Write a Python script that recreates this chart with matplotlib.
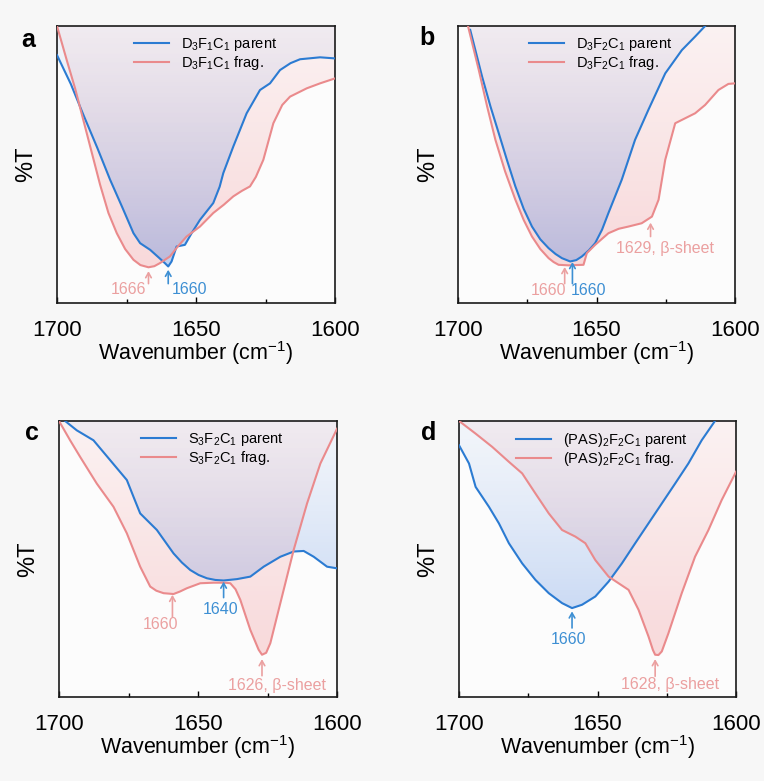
import numpy as np
import matplotlib
matplotlib.use("Agg")
import matplotlib.pyplot as plt
from matplotlib.patches import Polygon
from matplotlib.ticker import FixedLocator

plt.rcParams['font.family'] = ['Liberation Sans', 'DejaVu Sans']
plt.rcParams['mathtext.fontset'] = 'custom'
plt.rcParams['mathtext.rm'] = 'Liberation Sans'
plt.rcParams['mathtext.it'] = 'Liberation Sans:italic'
plt.rcParams['mathtext.bf'] = 'Liberation Sans:bold'
plt.rcParams['mathtext.default'] = 'regular'

BLUE = '#2b7bd2'
RED = '#ea8a8c'
BLUE_TXT = '#3d8fd3'
RED_TXT = '#eba0a0'

# --- spectra (wavenumber, normalised %T) ---
a_par_wn = [1700, 1695, 1690.5, 1685.5, 1680.9, 1676.5, 1672.5, 1670.1, 1666.5, 1663.5, 1661.2, 1660,
            1658.8, 1657, 1654, 1651.6, 1648.6, 1643.8, 1641.5, 1640.2, 1636.6, 1631.8, 1627,
            1623.4, 1619.8, 1616, 1612.6, 1605.4, 1600]
a_par_t = [0.895, 0.790, 0.679, 0.560, 0.445, 0.345, 0.252, 0.216, 0.192, 0.165, 0.144, 0.132,
           0.150, 0.204, 0.210, 0.252, 0.300, 0.361, 0.420, 0.469, 0.565, 0.685, 0.769,
           0.793, 0.841, 0.866, 0.880, 0.887, 0.883]
a_frag_wn = [1700, 1696.5, 1693.5, 1689.3, 1684.5, 1681.5, 1678.5, 1675.5, 1672.5, 1670, 1667.1,
             1665, 1663.0, 1659.4, 1656.5, 1653.4, 1648.6, 1643.8, 1640, 1636.6, 1633.5, 1630.6,
             1628.5, 1625.8, 1622.2, 1619, 1616.2, 1610.2, 1605.4, 1600]
a_frag_t = [1.0, 0.877, 0.775, 0.613, 0.427, 0.325, 0.252, 0.195, 0.156, 0.137, 0.129,
            0.133, 0.144, 0.168, 0.205, 0.240, 0.276, 0.325, 0.355, 0.385, 0.405, 0.421,
            0.455, 0.517, 0.649, 0.715, 0.745, 0.775, 0.793, 0.811]

b_par_wn = [1695.6, 1691.3, 1688.3, 1685.3, 1682.3, 1679.3, 1676.3, 1673.3, 1670.3, 1667.3, 1664.8,
            1662.5, 1659.5, 1657.3, 1655.3, 1652.8, 1650.5, 1648, 1645.7, 1640.9, 1636.1, 1631.3,
            1625.2, 1619.2, 1614.4, 1610.8]
b_par_t = [0.986, 0.817, 0.710, 0.613, 0.515, 0.421, 0.340, 0.276, 0.230, 0.198, 0.177,
           0.162, 0.150, 0.155, 0.168, 0.190, 0.216, 0.265, 0.325, 0.445, 0.589, 0.697,
           0.829, 0.913, 0.962, 1.0]
b_frag_wn = [1696.4, 1692.5, 1689.5, 1686.5, 1683, 1679.3, 1676.3, 1673.3, 1670.3, 1667.3, 1665.5,
             1663.7, 1660.1, 1654.7, 1653.5, 1650.5, 1648, 1645.7, 1642, 1638.5, 1633.7, 1630.0,
             1627.6, 1625.2, 1621.6, 1618.0, 1614.4, 1610.8, 1606.0, 1602.4, 1600]
b_frag_t = [1.0, 0.841, 0.710, 0.589, 0.475, 0.373, 0.300, 0.240, 0.195, 0.162, 0.148,
            0.138, 0.136, 0.138, 0.180, 0.210, 0.232, 0.252, 0.268, 0.276, 0.288, 0.312,
            0.373, 0.517, 0.649, 0.667, 0.685, 0.715, 0.769, 0.791, 0.793]

c_par_wn = [1697.8, 1693.6, 1687.6, 1681.6, 1675.6, 1673, 1670.8, 1664.8, 1658.8, 1655.8, 1652.8,
            1649.8, 1646.8, 1643.8, 1640.8, 1636.0, 1631.2, 1626.4, 1620.4, 1615.6, 1612.0, 1608.4,
            1603.6, 1600]
c_par_t = [1.0, 0.966, 0.930, 0.858, 0.786, 0.720, 0.665, 0.605, 0.520, 0.487, 0.460,
           0.442, 0.430, 0.424, 0.422, 0.427, 0.436, 0.472, 0.508, 0.527, 0.529, 0.508,
           0.472, 0.466]
c_frag_wn = [1700, 1696.0, 1692.4, 1686.4, 1680.4, 1675.6, 1670.8, 1667.2, 1665, 1662.4, 1658.8,
             1656.5, 1654.0, 1649.2, 1644.4, 1640.5, 1638.4, 1636.5, 1634.8, 1631.2, 1628.2, 1627.0,
             1625.5, 1624.0, 1620.4, 1615.6, 1610.8, 1606.0, 1600]
c_frag_t = [1.0, 0.930, 0.870, 0.773, 0.689, 0.593, 0.472, 0.400, 0.385, 0.376, 0.373,
            0.382, 0.394, 0.412, 0.414, 0.414, 0.412, 0.390, 0.352, 0.243, 0.171, 0.153,
            0.160, 0.195, 0.340, 0.533, 0.701, 0.846, 0.972]

d_par_wn = [1700, 1696.4, 1694.0, 1689.2, 1685.6, 1682.0, 1677.2, 1672.4, 1667.6, 1662.8, 1659.2,
            1655.6, 1650.8, 1646.0, 1641.2, 1636.4, 1631.6, 1626.8, 1622.0, 1617.2, 1612.4, 1607.6]
d_par_t = [0.912, 0.846, 0.761, 0.689, 0.629, 0.557, 0.484, 0.424, 0.376, 0.340, 0.322,
           0.334, 0.364, 0.418, 0.484, 0.557, 0.629, 0.701, 0.773, 0.846, 0.930, 1.0]
d_frag_wn = [1700, 1694.0, 1688.0, 1682.0, 1677.2, 1672.4, 1667.6, 1662.8, 1658.0, 1654.4, 1650.8,
             1646.0, 1642.4, 1638.8, 1635.2, 1631.6, 1630, 1629.2, 1628, 1626.8, 1624.4, 1619.6,
             1614.8, 1610.0, 1605.2, 1600]
d_frag_t = [1.0, 0.954, 0.906, 0.852, 0.810, 0.737, 0.665, 0.605, 0.581, 0.557, 0.496,
            0.436, 0.412, 0.388, 0.316, 0.219, 0.170, 0.153, 0.152, 0.165, 0.231, 0.376,
            0.508, 0.604, 0.713, 0.816]

names = ['D$_3$F$_1$C$_1$', 'D$_3$F$_2$C$_1$', 'S$_3$F$_2$C$_1$', '(PAS)$_2$F$_2$C$_1$']

# peak marks: (wavenumber, arrow tail, arrow tip, text x, text y, label, colour, ha, va)
a_marks = [(1667.1, 0.07, 0.115, 1667.8, 0.02, '1666', RED_TXT, 'right', 'bottom'),
           (1660.0, 0.07, 0.12, 1658.6, 0.02, '1660', BLUE_TXT, 'left', 'bottom')]
b_marks = [(1661.5, 0.07, 0.13, 1660.8, 0.018, '1660', RED_TXT, 'right', 'bottom'),
           (1658.7, 0.07, 0.148, 1659.4, 0.018, '1660', BLUE_TXT, 'left', 'bottom'),
           (1630.5, 0.24, 0.29, 1625.2, 0.198, '1629, β-sheet', RED_TXT, 'center', 'center')]
c_marks = [(1659.2, 0.29, 0.37, 1663.6, 0.261, '1660', RED_TXT, 'center', 'center'),
           (1640.8, 0.36, 0.418, 1642.0, 0.318, '1640', BLUE_TXT, 'center', 'center'),
           (1627.0, 0.077, 0.137, 1621.6, 0.041, '1626, β-sheet', RED_TXT, 'center', 'center')]
d_marks = [(1659.2, 0.25, 0.31, 1660.4, 0.207, '1660', BLUE_TXT, 'center', 'center'),
           (1629.2, 0.075, 0.137, 1623.8, 0.045, '1628, β-sheet', RED_TXT, 'center', 'center')]


def grad_fill(ax, wn, t, rgb, a_low, a_high, power):
    # shade from the curve up to the top of the frame, stronger near the band
    wn = np.asarray(wn, float)
    t = np.asarray(t, float)
    verts = np.column_stack([np.r_[wn, wn[::-1]], np.r_[t, np.full_like(t, 1.3)]])
    poly = Polygon(verts, closed=True, facecolor='none', edgecolor='none')
    ax.add_patch(poly)
    g = np.clip(np.linspace(0, 1.3, 256), 0, 1)
    img = np.zeros((256, 1, 4))
    img[..., :3] = rgb
    img[:, 0, 3] = a_high + (a_low - a_high) * (1 - g) ** power
    im = ax.imshow(img, extent=[1700, 1600, 0, 1.3], origin='lower', aspect='auto',
                   zorder=1, interpolation='bilinear')
    im.set_clip_path(poly)


fig = plt.figure(figsize=(7.64, 7.81), dpi=100, facecolor='#f7f7f7')
rects = [[0.0746, 0.612, 0.364, 0.3547], [0.5995, 0.612, 0.3626, 0.3547],
         [0.0772, 0.1076, 0.364, 0.3534], [0.6008, 0.1076, 0.3626, 0.3534]]
panels = [(a_par_wn, a_par_t, a_frag_wn, a_frag_t, a_marks, 0.24),
          (b_par_wn, b_par_t, b_frag_wn, b_frag_t, b_marks, 0.22),
          (c_par_wn, c_par_t, c_frag_wn, c_frag_t, c_marks, 0.26),
          (d_par_wn, d_par_t, d_frag_wn, d_frag_t, d_marks, 0.17)]
letters = ['a', 'b', 'c', 'd']
letter_pos = [(28, 40), (427, 38), (32, 433), (429, 433)]

for i, (pw, pt, fw, ft, marks, leg_x) in enumerate(panels):
    ax = fig.add_axes(rects[i])
    ax.set_facecolor('#fcfcfc')
    grad_fill(ax, fw, ft, (0.94, 0.48, 0.50), 0.30, 0.08, 1.0)
    grad_fill(ax, pw, pt, (0.30, 0.52, 0.88), 0.42, 0.06, 1.3)
    ax.plot(pw, pt, color=BLUE, lw=1.5, label=names[i] + ' parent', zorder=3)
    ax.plot(fw, ft, color=RED, lw=1.5, label=names[i] + ' frag.', zorder=3)
    for wn, y0, y1, tx, ty, lab, col, ha, va in marks:
        ax.annotate('', xy=(wn, y1), xytext=(wn, y0),
                    arrowprops=dict(arrowstyle='->,head_length=0.35,head_width=0.2',
                                    color=col, lw=1.2, shrinkA=0, shrinkB=0), zorder=4)
        ax.text(tx, ty, lab, color=col, ha=ha, va=va, fontsize=11.5, zorder=4)
    ax.set_xlim(1700, 1600)
    ax.set_ylim(0, 1)
    ax.xaxis.set_major_locator(FixedLocator([1700, 1650, 1600]))
    ax.xaxis.set_minor_locator(FixedLocator([1675, 1625]))
    ax.tick_params(axis='x', which='major', direction='in', length=4, width=1, labelsize=16, pad=12)
    ax.tick_params(axis='x', which='minor', direction='in', length=3, width=1)
    ax.set_yticks([])
    for s in ax.spines.values():
        s.set_linewidth(1.2)
        s.set_color('#1a1a1a')
    ax.set_xlabel('Wavenumber (cm$^{-1}$)', fontsize=15.5)
    ax.xaxis.set_label_coords(0.5, -0.13)
    ax.set_ylabel('%T', fontsize=17)
    ax.yaxis.set_label_coords(-0.07, 0.5)
    ax.legend(loc='upper left', bbox_to_anchor=(leg_x, 1.0), frameon=False, fontsize=10.5,
              handlelength=2.4, handletextpad=0.8, labelspacing=0.05, borderaxespad=0.3)
    lx, ly = letter_pos[i]
    fig.text(lx / 764, 1 - ly / 781, letters[i], fontsize=18, fontweight='bold',
             ha='center', va='center')

fig.savefig('out.png', dpi=100, facecolor=fig.get_facecolor())
